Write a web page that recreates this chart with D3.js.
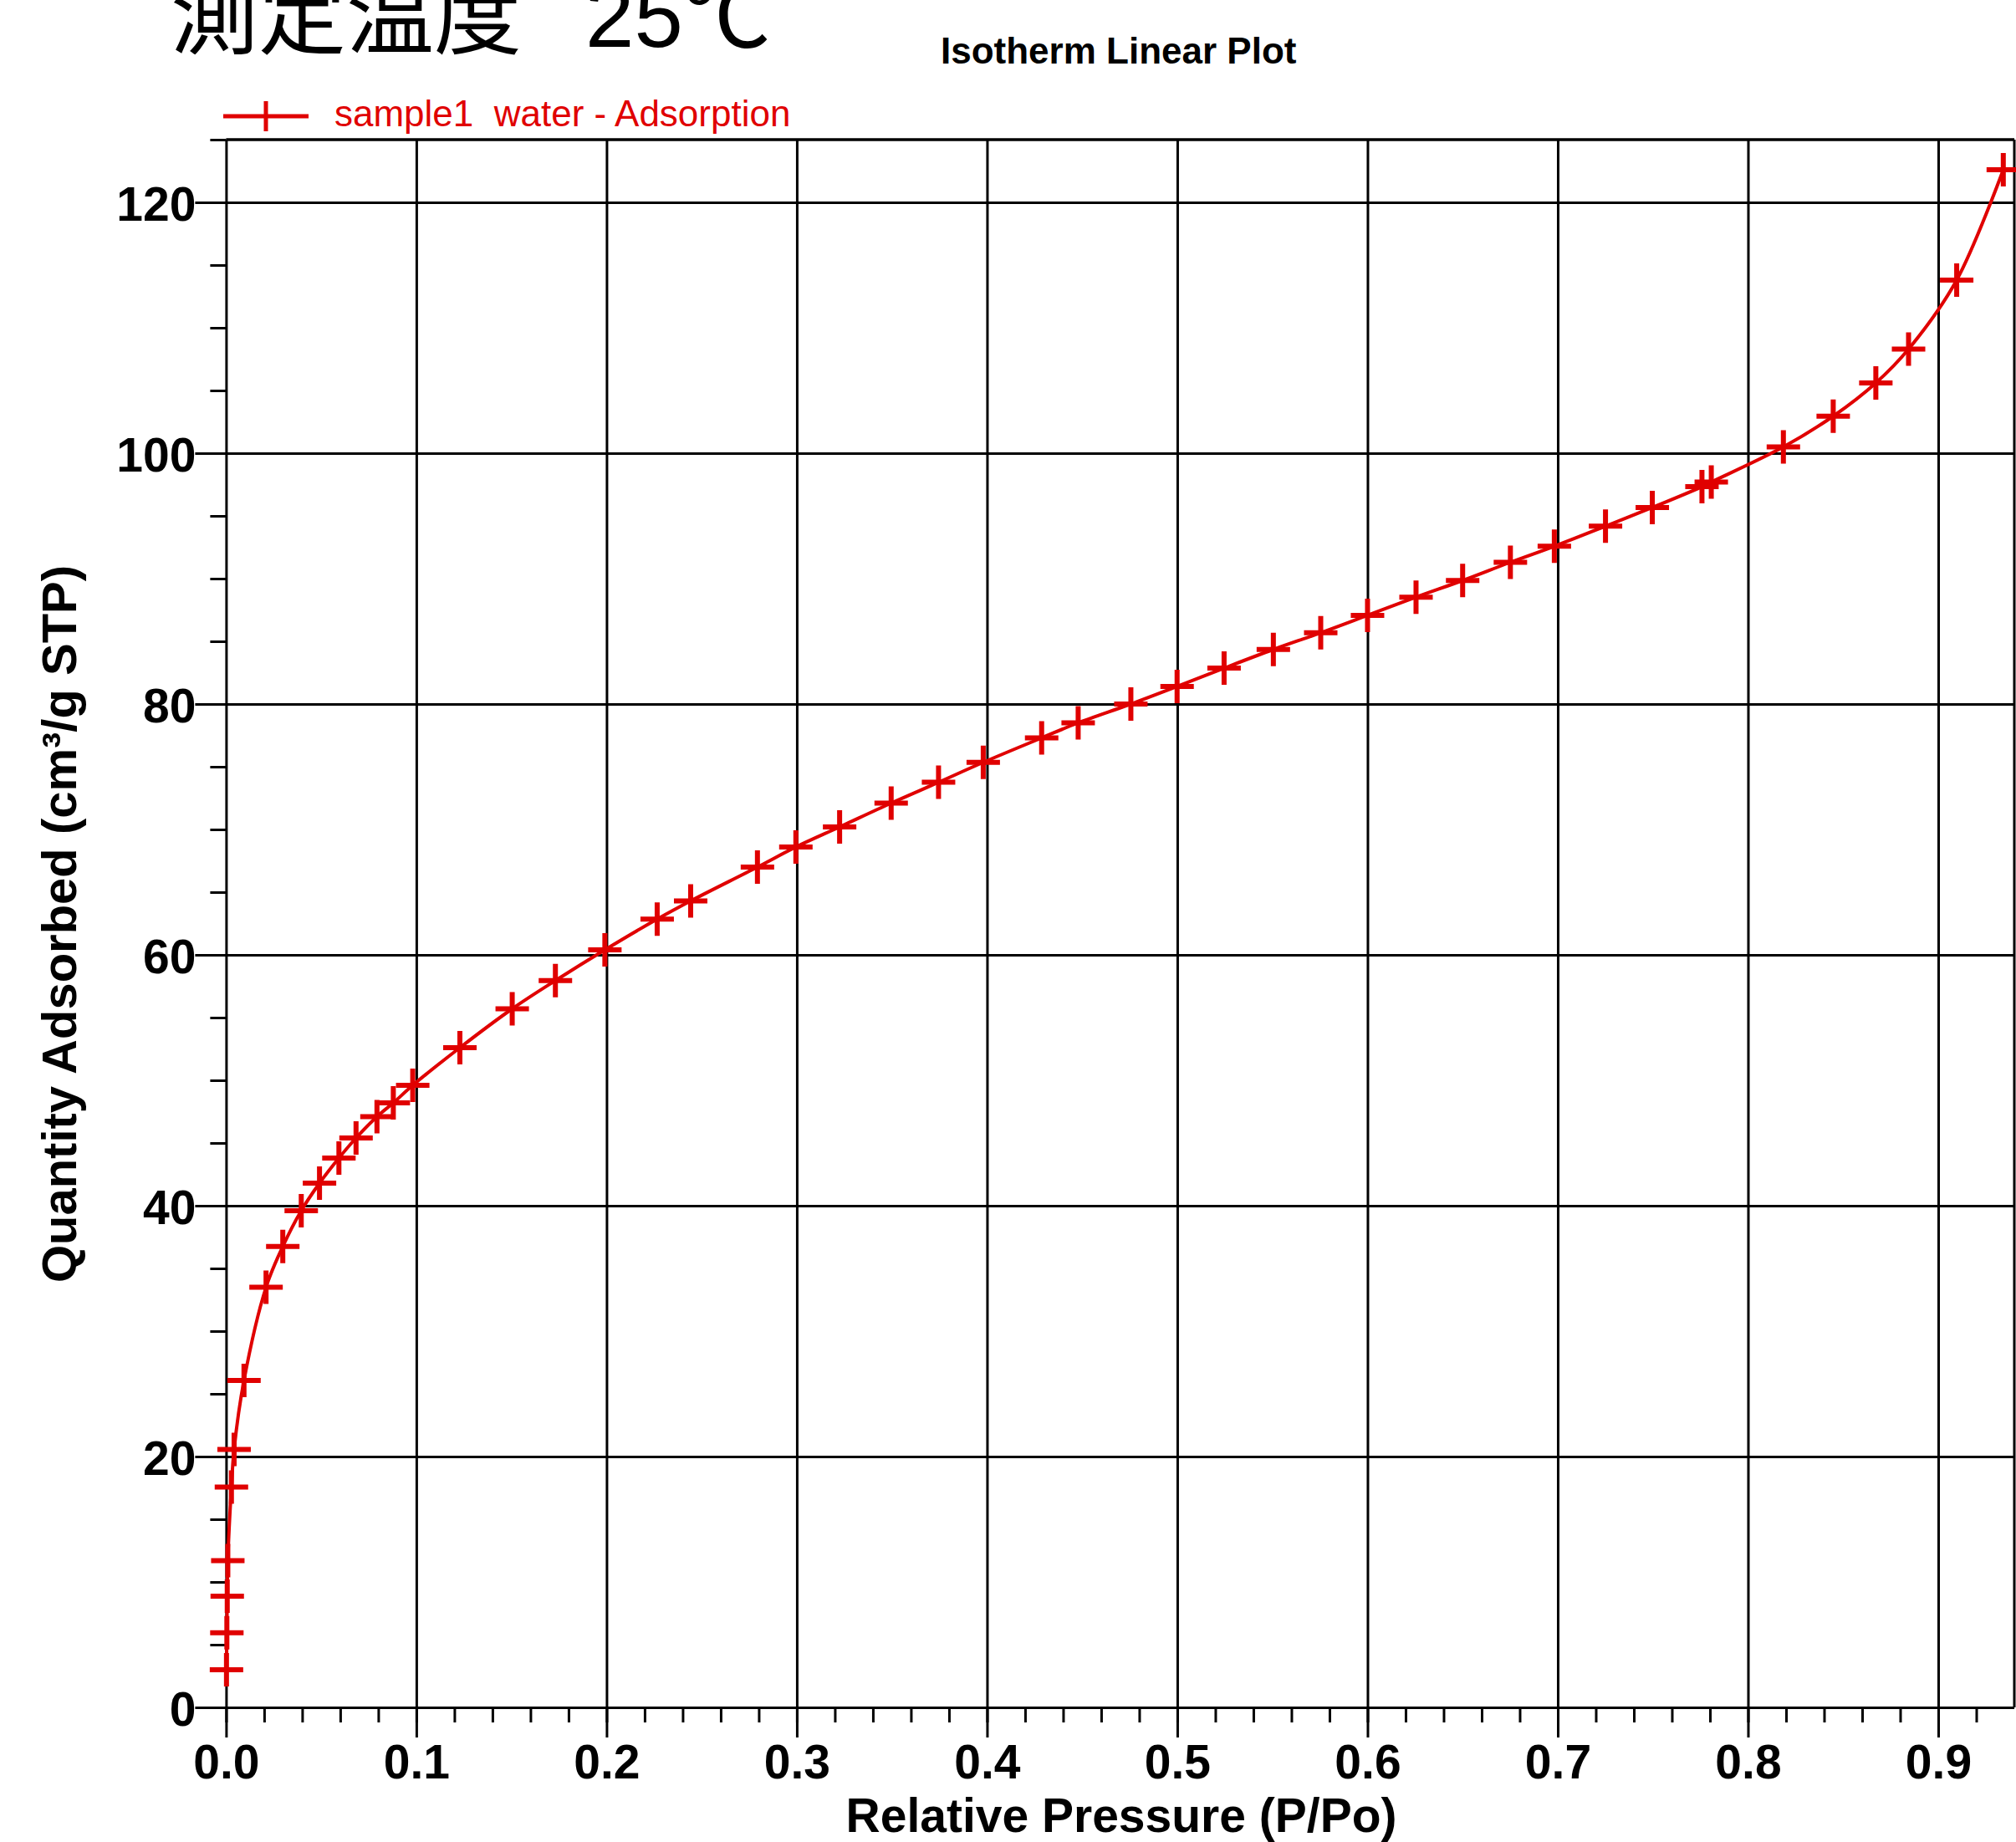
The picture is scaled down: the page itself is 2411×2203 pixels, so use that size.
<!DOCTYPE html>
<html>
<head>
<meta charset="utf-8">
<script src="https://cdn.jsdelivr.net/npm/d3@7"></script>
<style>
  body { margin: 0; background: #fff; }
  svg { display: block; }
  text { font-family: "Liberation Sans", Arial, sans-serif; }
</style>
</head>
<body>
<div id="chart"></div>
<script>
// Isotherm data
const pressure = [0.0002, 0.0004, 0.0006, 0.0009, 0.0028, 0.0042, 0.0094, 0.0210, 0.0298, 0.0395,
  0.0491, 0.0593, 0.0683, 0.0793, 0.0879, 0.0981, 0.1229, 0.1504, 0.1731, 0.1991,
  0.2266, 0.2442, 0.2793, 0.2995, 0.3225, 0.3496, 0.3745, 0.3980, 0.4287, 0.4479,
  0.4756, 0.4999, 0.5246, 0.5505, 0.5754, 0.6000, 0.6255, 0.6500, 0.6751, 0.6982,
  0.7251, 0.7497, 0.7758, 0.7807, 0.8186, 0.8448, 0.8672, 0.8844, 0.9097, 0.9342];
const quantity = [3.0, 5.95, 8.86, 11.7, 17.57, 20.56, 26.07, 33.5, 36.75, 39.6,
  41.8, 43.8, 45.4, 47.1, 48.2, 49.6, 52.6, 55.7, 57.95, 60.4,
  62.85, 64.3, 67.0, 68.6, 70.2, 72.1, 73.76, 75.35, 77.3, 78.5,
  80.0, 81.4, 82.86, 84.35, 85.68, 87.07, 88.52, 89.85, 91.3, 92.58,
  94.18, 95.67, 97.33, 97.7, 100.5, 102.95, 105.6, 108.3, 113.8, 122.6];

const xMajor = [0, 0.1, 0.2, 0.3, 0.4, 0.5, 0.6, 0.7, 0.8, 0.9];
const yMajor = [0, 20, 40, 60, 80, 100, 120];
const xMinor = d3.range(0, 47).map(i => i * 0.02);
const yMinor = d3.range(0, 26).map(i => i * 5);

const title = "測定温度";
const titleTemp = "25℃";
const subtitle = "Isotherm Linear Plot";
const seriesName = "sample1  water - Adsorption";
const xTitle = "Relative Pressure (P/Po)";
const yTitle = "Quantity Adsorbed (cm³/g STP)";

const width = 2411, height = 2203;
const red = "#e00000";

const x = d3.scaleLinear().domain([0, 0.94]).range([270.4, 2409]);
const y = d3.scaleLinear().domain([0, 125]).range([2042, 167]);

const svg = d3.select("#chart").append("svg")
  .attr("width", width)
  .attr("height", height);

svg.append("rect").attr("width", width).attr("height", height).attr("fill", "#fff");

// grid lines (also the axis lines at 0)
svg.append("g")
  .attr("transform", `translate(0,${y(0)})`)
  .call(d3.axisBottom(x).tickValues(xMajor).tickSizeInner(-(y(0) - y(125))).tickSizeOuter(0).tickFormat(""))
  .call(g => g.select(".domain").remove())
  .call(g => g.selectAll("line").attr("stroke", "#000").attr("stroke-width", 3));

svg.append("g")
  .attr("transform", `translate(${x(0)},0)`)
  .call(d3.axisLeft(y).tickValues(yMajor).tickSizeInner(-(x(0.94) - x(0))).tickSizeOuter(0).tickFormat(""))
  .call(g => g.select(".domain").remove())
  .call(g => g.selectAll("line").attr("stroke", "#000").attr("stroke-width", 3));

// top and right border
svg.append("line").attr("x1", x(0)).attr("x2", x(0.94)).attr("y1", y(125)).attr("y2", y(125))
  .attr("stroke", "#000").attr("stroke-width", 3.5);
svg.append("line").attr("x1", x(0.94)).attr("x2", x(0.94)).attr("y1", y(125)).attr("y2", y(0))
  .attr("stroke", "#000").attr("stroke-width", 3);

// minor ticks
svg.append("g")
  .attr("transform", `translate(0,${y(0)})`)
  .call(d3.axisBottom(x).tickValues(xMinor).tickSize(18).tickFormat(""))
  .call(g => g.select(".domain").remove())
  .call(g => g.selectAll("line").attr("stroke", "#000").attr("stroke-width", 3));

svg.append("g")
  .attr("transform", `translate(${x(0)},0)`)
  .call(d3.axisLeft(y).tickValues(yMinor).tickSize(19).tickFormat(""))
  .call(g => g.select(".domain").remove())
  .call(g => g.selectAll("line").attr("stroke", "#000").attr("stroke-width", 3));

// major ticks with labels
svg.append("g")
  .attr("transform", `translate(0,${y(0)})`)
  .call(d3.axisBottom(x).tickValues(xMajor).tickSize(36).tickPadding(9).tickFormat(d3.format(".1f")))
  .call(g => g.select(".domain").remove())
  .call(g => g.selectAll("line").attr("stroke", "#000").attr("stroke-width", 3))
  .call(g => g.selectAll("text").attr("fill", "#000").attr("font-size", 57).attr("font-weight", "bold")
    .attr("font-family", "Liberation Sans, Arial, sans-serif"));

svg.append("g")
  .attr("transform", `translate(${x(0)},0)`)
  .call(d3.axisLeft(y).tickValues(yMajor).tickSize(37).tickPadding(-1).tickFormat(d3.format("d")))
  .call(g => g.select(".domain").remove())
  .call(g => g.selectAll("line").attr("stroke", "#000").attr("stroke-width", 3))
  .call(g => g.selectAll("text").attr("fill", "#000").attr("font-size", 57).attr("font-weight", "bold")
    .attr("dy", "0.37em").attr("font-family", "Liberation Sans, Arial, sans-serif"));

// axis titles
svg.append("text")
  .attr("x", 1341).attr("y", 2191)
  .attr("text-anchor", "middle")
  .attr("font-size", 57).attr("font-weight", "bold")
  .text(xTitle);

svg.append("text")
  .attr("transform", "translate(91,1105) rotate(-90)")
  .attr("text-anchor", "middle")
  .attr("font-size", 58).attr("font-weight", "bold")
  .text(yTitle);

// isotherm line
const pts = pressure.map((p, i) => [p, quantity[i]]);
const line = d3.line()
  .x(d => x(d[0]))
  .y(d => y(d[1]))
  .curve(d3.curveCatmullRom.alpha(0.5));

svg.append("path")
  .datum(pts)
  .attr("d", line)
  .attr("fill", "none")
  .attr("stroke", red)
  .attr("stroke-width", 4);

// cross markers
const arm = 20;
const marks = svg.append("g").attr("stroke", red).attr("stroke-width", 6);
marks.selectAll("path.mk")
  .data(pts)
  .enter().append("path")
  .attr("class", "mk")
  .attr("d", d => `M${x(d[0]) - arm},${y(d[1])}H${x(d[0]) + arm}M${x(d[0])},${y(d[1]) - arm}V${y(d[1]) + arm}`);

// legend
svg.append("line").attr("x1", 267).attr("x2", 369).attr("y1", 139).attr("y2", 139)
  .attr("stroke", red).attr("stroke-width", 5);
svg.append("line").attr("x1", 318).attr("x2", 318).attr("y1", 121).attr("y2", 157)
  .attr("stroke", red).attr("stroke-width", 5);
svg.append("text")
  .attr("x", 400).attr("y", 151)
  .attr("font-size", 44).attr("fill", red)
  .attr("xml:space", "preserve")
  .style("white-space", "pre")
  .text(seriesName);

// titles (cut at the top edge, as in the original)
const t = svg.append("text")
  .attr("y", 56)
  .attr("font-size", 105)
  .attr("fill", "#000")
  .style("font-family", "'Liberation Sans', 'Noto Sans CJK JP', sans-serif");
t.append("tspan").attr("x", 204).text(title);
t.append("tspan").attr("x", 700).text(titleTemp);

svg.append("text")
  .attr("x", 1125).attr("y", 76)
  .attr("font-size", 44).attr("font-weight", "bold")
  .text(subtitle);
</script>
</body>
</html>
